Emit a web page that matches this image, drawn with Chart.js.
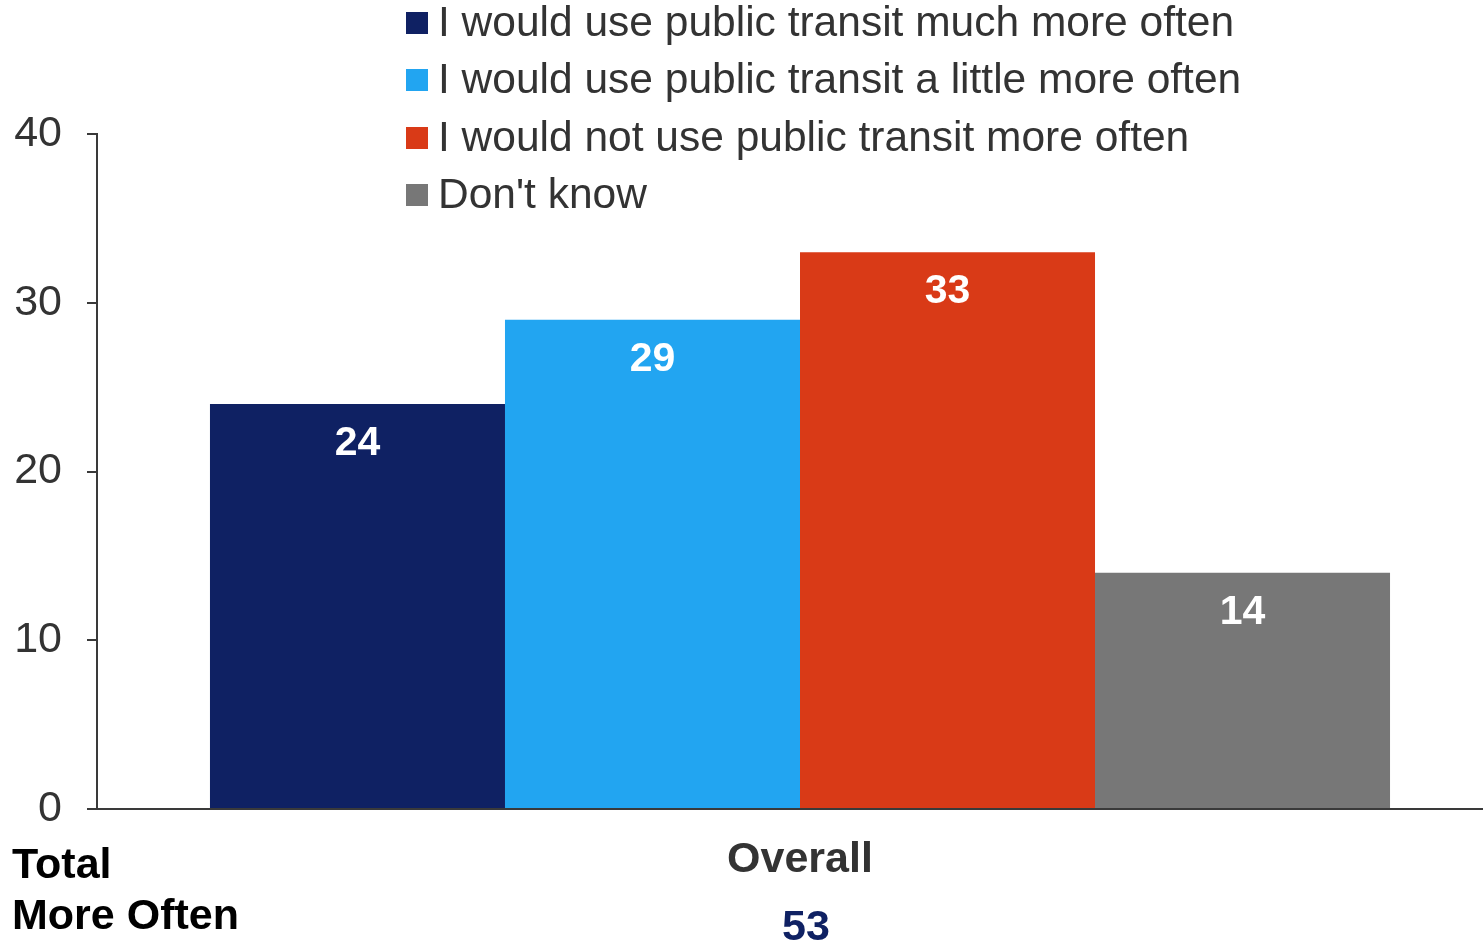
<!DOCTYPE html>
<html>
<head>
<meta charset="utf-8">
<script src="https://cdn.jsdelivr.net/npm/chart.js@4/dist/chart.umd.min.js"></script>
<style>
  html, body { margin: 0; padding: 0; background: #fff; overflow: hidden; }
  #wrap { position: relative; width: 1483px; height: 943px; overflow: hidden; }
  #box { position: absolute; left: 0; top: 0; width: 1510px; height: 943px; }
  #legend { position: absolute; left: 406px; top: -7px; font-family: "Liberation Sans", Arial, sans-serif; font-size: 42.5px; color: #333; }
  #legend div { height: 57.5px; display: flex; align-items: center; white-space: nowrap; }
  #legend span.sw { display: inline-block; width: 22px; height: 22px; margin-right: 10px; margin-top: 2px; flex: none; }
</style>
</head>
<body>
<div id="wrap">
  <div id="box"><canvas id="chart"></canvas></div>
  <div id="legend"></div>
</div>
<script>
const categories = ['Overall'];
const seriesNames = [
  'I would use public transit much more often',
  'I would use public transit a little more often',
  'I would not use public transit more often',
  "Don't know"
];
const muchMore = [24];
const littleMore = [29];
const notMore = [33];
const dontKnow = [14];
const yTicks = [0, 10, 20, 30, 40];
const colors = ['#0f2163', '#22a5f1', '#d93a17', '#777777'];

const font = '"Liberation Sans", Arial, sans-serif';
const series = [muchMore, littleMore, notMore, dontKnow];

// values inside the top of each bar, plus the "Total More Often" row
const labelsPlugin = {
  id: 'barLabels',
  afterDatasetsDraw(chart) {
    const ctx = chart.ctx;
    ctx.save();
    ctx.textAlign = 'center';
    ctx.textBaseline = 'middle';
    ctx.font = 'bold 41px ' + font;
    ctx.fillStyle = '#fff';
    chart.data.datasets.forEach((ds, i) => {
      chart.getDatasetMeta(i).data.forEach((bar, j) => {
        ctx.fillText(ds.data[j], bar.x, bar.y + 40);
      });
    });

    ctx.font = 'bold 43px ' + font;
    ctx.fillStyle = '#000';
    ctx.textAlign = 'left';
    ctx.fillText('Total', 12, 866);
    ctx.fillText('More Often', 12, 917);

    const x = chart.scales.x;
    ctx.textAlign = 'center';
    ctx.fillStyle = '#0f2163';
    categories.forEach((c, j) => {
      const total = muchMore[j] + littleMore[j];
      ctx.fillText(total, x.getPixelForValue(j) + 6, 928);
    });
    ctx.restore();
  }
};

const chart = new Chart(document.getElementById('chart'), {
  type: 'bar',
  data: {
    labels: categories,
    datasets: series.map((d, i) => ({
      label: seriesNames[i],
      data: d,
      backgroundColor: colors[i],
      borderWidth: 0,
      categoryPercentage: 0.8393,
      barPercentage: 1
    }))
  },
  options: {
    responsive: true,
    maintainAspectRatio: false,
    animation: false,
    layout: { padding: { top: 134, right: 7, left: 0, bottom: 0 } },
    plugins: { legend: { display: false }, tooltip: { enabled: false } },
    scales: {
      x: {
        grid: { display: true, drawOnChartArea: false, drawTicks: false },
        border: { color: '#3a3a3a', width: 2 },
        ticks: { color: '#333', font: { family: font, size: 43, weight: 'bold' }, padding: 25 },
        afterFit(s) { s.height = 134; }
      },
      y: {
        min: 0,
        max: 40,
        afterBuildTicks(s) { s.ticks = yTicks.map(v => ({ value: v })); },
        grid: { display: true, drawOnChartArea: false, drawTicks: true, tickLength: 10, color: '#3a3a3a', lineWidth: 2 },
        border: { color: '#3a3a3a', width: 2 },
        ticks: { color: '#333', font: { family: font, size: 43 }, padding: 25 },
        afterFit(s) { s.width = 97; }
      }
    }
  },
  plugins: [labelsPlugin]
});

// legend list built from the chart's datasets
const legend = document.getElementById('legend');
chart.data.datasets.forEach(ds => {
  const row = document.createElement('div');
  row.innerHTML = '<span class="sw" style="background:' + ds.backgroundColor + '"></span>' + ds.label;
  legend.appendChild(row);
});
</script>
</body>
</html>
